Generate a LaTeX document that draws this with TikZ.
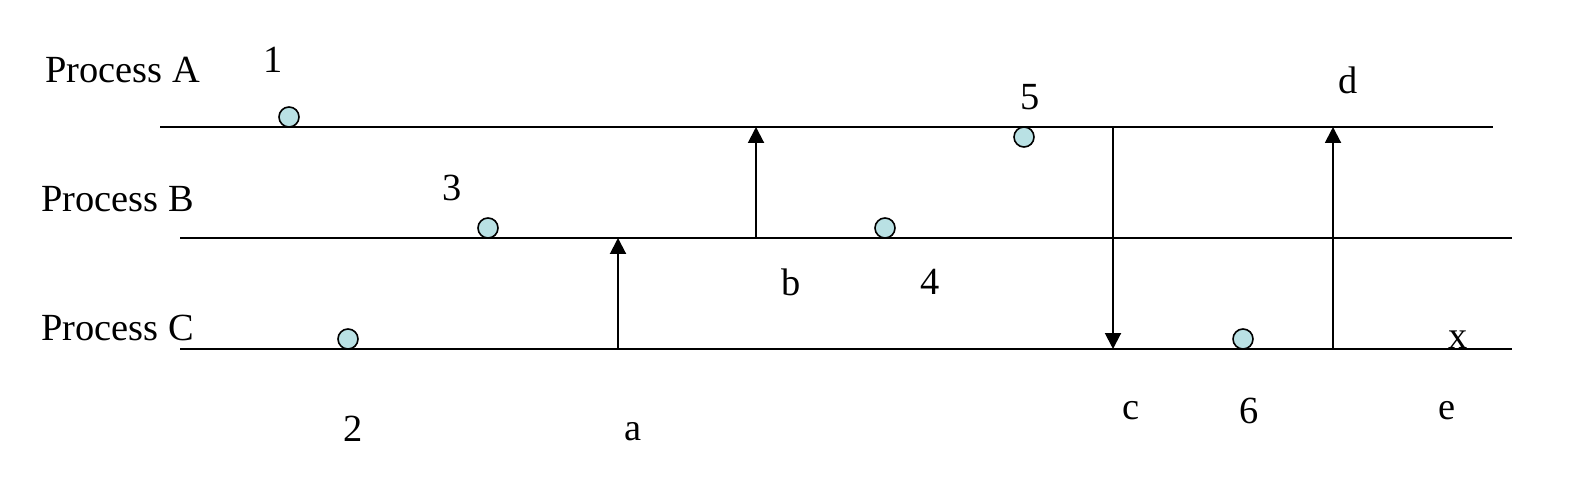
\documentclass[tikz,border=0pt]{standalone}
\usepackage{fontspec}
\setmainfont{Liberation Serif}
\usetikzlibrary{arrows.meta}
\definecolor{dotfill}{RGB}{185,225,228}
\begin{document}
\begin{tikzpicture}[x=0.5pt,y=-0.5pt,
  lbl/.style={inner sep=0pt, font=\fontsize{19.2}{22}\selectfont},
  dot/.style={circle, draw, line width=0.8pt, fill=dotfill, minimum size=10pt, inner sep=0pt},
  tl/.style={line width=1pt},
  msg/.style={line width=1pt, -{Triangle[length=8pt,width=8pt]}}]
\useasboundingbox (0,0) rectangle (1573,486);
% process names
\node[lbl, anchor=west] (pA) at (45,70) {Process A};
\node[lbl, anchor=west] (pB) at (41,199) {Process B};
\node[lbl, anchor=west] (pC) at (41,328) {Process C};
% time lines
\coordinate (As) at (160,127); \coordinate (Ae) at (1493,127);
\coordinate (Bs) at (180,238); \coordinate (Be) at (1512,238);
\coordinate (Cs) at (180,349); \coordinate (Ce) at (1512,349);
\draw[tl] (As) -- (Ae);
\draw[tl] (Bs) -- (Be);
\draw[tl] (Cs) -- (Ce);
% messages
\coordinate (a0) at (618,349); \coordinate (a1) at (618,238);
\coordinate (b0) at (756,238); \coordinate (b1) at (756,127);
\coordinate (c0) at (1113,127); \coordinate (c1) at (1113,349);
\coordinate (d0) at (1333,349); \coordinate (d1) at (1333,127);
\draw[msg] (a0) -- (a1);
\draw[msg] (b0) -- (b1);
\draw[msg] (c0) -- (c1);
\draw[msg] (d0) -- (d1);
% events
\node[dot] (e1) at (289,117) {};
\node[dot] (e2) at (348,339) {};
\node[dot] (e3) at (488,228) {};
\node[dot] (e4) at (885,228) {};
\node[dot] (e5) at (1024,137) {};
\node[dot] (e6) at (1243,339) {};
% labels
\node[lbl] (l1) at (273,60) {1};
\node[lbl] (l2) at (353,429) {2};
\node[lbl] (l3) at (452,188) {3};
\node[lbl] (l4) at (930,282) {4};
\node[lbl] (l5) at (1030,97) {5};
\node[lbl] (l6) at (1249,411) {6};
\node[lbl] (la) at (633,432) {a};
\node[lbl] (lb) at (791,282) {b};
\node[lbl] (lc) at (1131,411) {c};
\node[lbl] (ld) at (1348,80) {d};
\node[lbl] (le) at (1447,411) {e};
\node[lbl, anchor=base] (lx) at (1458,348) {x};
\end{tikzpicture}
\end{document}
